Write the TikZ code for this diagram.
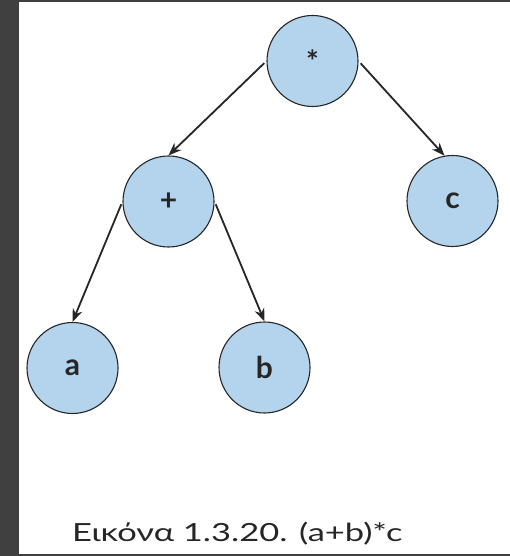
\documentclass[tikz,border=0pt]{standalone}
\usepackage{fontspec}
\setmainfont{Lato}
\newfontfamily\capfont[FakeStretch=1.38]{Lato}
\usetikzlibrary{arrows.meta}
\definecolor{nodefill}{HTML}{B3D4EC}
\definecolor{frame}{HTML}{404040}
\definecolor{edgecol}{HTML}{262626}
\tikzset{
  treenode/.style={circle, draw=edgecol, line width=1.1pt, fill=nodefill, minimum size=91pt, inner sep=0pt, font=\fontsize{30}{30}\selectfont\bfseries, text=black!85},
  treeedge/.style={draw=edgecol, line width=1.8pt, -{Stealth[length=13pt,width=10pt]}, shorten <=3pt},
}
\begin{document}
\begin{tikzpicture}[x=1pt,y=-1pt]
\useasboundingbox (0,0) rectangle (510,556);
\fill[white] (0,0) rectangle (510,556);
\fill[frame] (0,0) rectangle (19,556);
\fill[frame] (0,0) rectangle (510,2);
\fill[frame] (0,554) rectangle (510,556);
\node[treenode] (star) at (312.5,61) {*};
\node[treenode] (plus) at (168.5,201.5) {+};
\node[treenode] (c) at (452.5,201) {c};
\node[treenode] (a) at (72.5,368) {a};
\node[treenode] (b) at (264.5,367.5) {b};
\draw[treeedge] (star.west) -- (plus.north);
\draw[treeedge] (star.east) -- (c.100);
\draw[treeedge] (plus.west) -- (a.north);
\draw[treeedge] (plus.east) -- (b.north);
\node[anchor=base west, inner sep=0pt, font=\capfont\fontsize{25}{25}\selectfont, text=black!85] (caption) at (72,541) {Εικόνα 1.3.20. (a+b)*c};
\end{tikzpicture}
\end{document}
